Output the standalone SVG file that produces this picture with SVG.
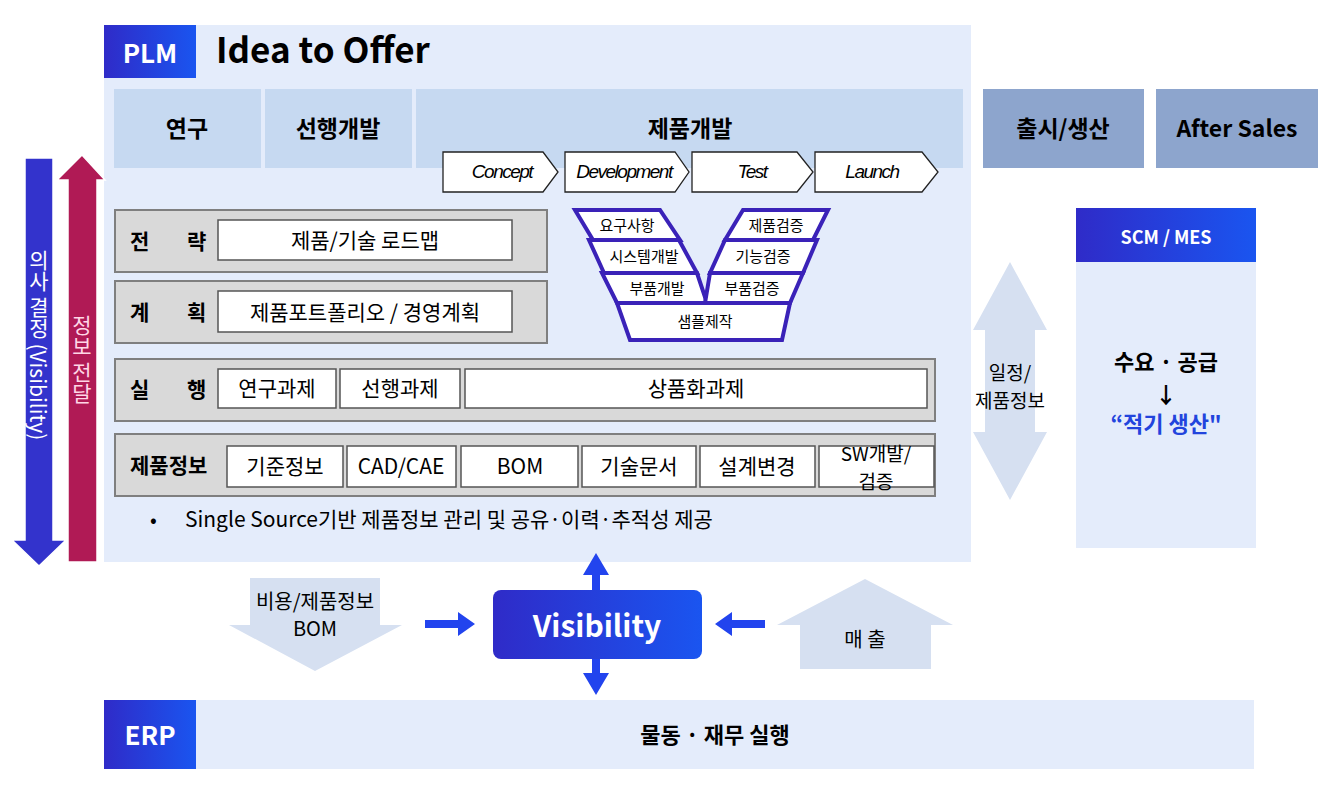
<svg xmlns="http://www.w3.org/2000/svg" width="1342" height="794" viewBox="0 0 1342 794">
<defs>
<linearGradient id="bg" x1="0" y1="0" x2="1" y2="0"><stop offset="0" stop-color="#2f2bc8"/><stop offset="1" stop-color="#1a55f0"/></linearGradient>
<style>
text{font-family:"Noto Sans CJK KR","Noto Sans",sans-serif;fill:#000}
.hd{font-size:23px;font-weight:bold;text-anchor:middle}
.row{fill:#d9d9d9;stroke:#7f7f7f;stroke-width:2}
.in{fill:#fff;stroke:#555;stroke-width:1.5}
.t{font-size:21px;text-anchor:middle}
.lbl{font-size:21px;font-weight:bold}
.pent{fill:#fff;stroke:#222;stroke-width:1.3}
.it{font-family:"Liberation Sans",sans-serif;font-style:italic;font-size:19px;text-anchor:middle;letter-spacing:-1.5px}
.v{fill:#fff;stroke:#3a22b8;stroke-width:4;stroke-linejoin:miter}
.vt{font-size:15px;text-anchor:middle}
.w{fill:#fff;font-weight:bold;text-anchor:middle}
.arr{fill:#d6e0f1}
.ba{fill:#2244ee}
</style>
</defs>
<rect width="1342" height="794" fill="#fff"/>
<g id="plm">
<rect x="104" y="25" width="867" height="537" fill="#e4ecfb"/>
<rect x="104" y="25" width="92" height="53" fill="url(#bg)"/>
<text x="150" y="63" class="w" font-size="26">PLM</text>
<text x="216" y="63" font-size="35" font-weight="bold">Idea to Offer</text>
</g>
<g id="headers">
<rect x="114" y="89" width="147" height="79" fill="#c6d9f1"/><text x="187" y="137" class="hd">연구</text>
<rect x="265" y="89" width="147" height="79" fill="#c6d9f1"/><text x="338" y="137" class="hd">선행개발</text>
<rect x="416" y="89" width="547" height="79" fill="#c6d9f1"/><text x="690" y="137" class="hd">제품개발</text>
<rect x="983" y="89" width="161" height="79" fill="#8da5cd"/><text x="1063" y="137" class="hd">출시/생산</text>
<rect x="1156" y="89" width="162" height="79" fill="#8da5cd"/><text x="1237" y="137" class="hd">After Sales</text>
</g>
<g id="phases">
<polygon class="pent" points="443,152 543,152 558,172 543,192 443,192"/><text x="502" y="178" class="it">Concept</text>
<polygon class="pent" points="565,152 675,152 689,172 675,192 565,192"/><text x="624" y="178" class="it">Development</text>
<polygon class="pent" points="692,152 797,152 813,172 797,192 692,192"/><text x="752" y="178" class="it">Test</text>
<polygon class="pent" points="815,152 922,152 938,172 922,192 815,192"/><text x="872" y="178" class="it">Launch</text>
</g>
<g id="vmodel">
<polygon class="v" points="575,210 660,210 680,240 593,240"/><text x="627" y="231" class="vt">요구사항</text>
<polygon class="v" points="589,240 679,240 697,273 604,273"/><text x="644" y="262" class="vt">시스템개발</text>
<polygon class="v" points="602,273 697,273 707,303 617,303"/><text x="657" y="294" class="vt">부품개발</text>
<polygon class="v" points="743,210 828,210 813,240 725,240"/><text x="776" y="231" class="vt">제품검증</text>
<polygon class="v" points="725,240 817,240 803,273 710,273"/><text x="763" y="262" class="vt">기능검증</text>
<polygon class="v" points="710,273 803,273 790,303 705,303"/><text x="752" y="294" class="vt">부품검증</text>
<polygon class="v" points="617,303 790,303 782,340 630,340"/><text x="705" y="327" class="vt">샘플제작</text>
</g>
<g id="strategy">
<rect class="row" x="115" y="210" width="432" height="62"/>
<text x="130" y="249" class="lbl">전</text><text x="187" y="249" class="lbl">략</text>
<rect class="in" x="218" y="220" width="294" height="40"/><text x="365" y="248" class="t">제품/기술 로드맵</text>
</g>
<g id="plan">
<rect class="row" x="115" y="281" width="432" height="62"/>
<text x="130" y="320" class="lbl">계</text><text x="187" y="320" class="lbl">획</text>
<rect class="in" x="218" y="291" width="294" height="41"/><text x="365" y="320" class="t">제품포트폴리오 / 경영계획</text>
</g>
<g id="exec">
<rect class="row" x="115" y="359" width="820" height="62"/>
<text x="130" y="397" class="lbl">실</text><text x="187" y="397" class="lbl">행</text>
<rect class="in" x="218" y="369" width="118" height="39"/><text x="277" y="396" class="t">연구과제</text>
<rect class="in" x="340" y="369" width="120" height="39"/><text x="400" y="396" class="t">선행과제</text>
<rect class="in" x="465" y="369" width="462" height="39"/><text x="696" y="396" class="t">상품화과제</text>
</g>
<g id="info">
<rect class="row" x="115" y="434" width="820" height="62"/>
<text x="130" y="473" class="lbl">제품정보</text>
<rect class="in" x="227" y="446" width="116" height="41"/><text x="285" y="474" class="t">기준정보</text>
<rect class="in" x="347" y="446" width="109" height="41"/><text x="401" y="474" class="t">CAD/CAE</text>
<rect class="in" x="461" y="446" width="117" height="41"/><text x="520" y="474" class="t">BOM</text>
<rect class="in" x="582" y="446" width="114" height="41"/><text x="639" y="474" class="t">기술문서</text>
<rect class="in" x="700" y="446" width="115" height="41"/><text x="757" y="474" class="t">설계변경</text>
<rect class="in" x="819" y="446" width="115" height="41"/><text x="876" y="461" font-size="19" text-anchor="middle">SW개발/</text><text x="876" y="489" font-size="19" text-anchor="middle">검증</text>
</g>
<g id="note">
<text x="150" y="527" font-size="20">•</text>
<text x="185" y="527" font-size="21">Single Source기반 제품정보 관리 및 공유·이력·추적성 제공</text>
</g>
<g id="side-arrows">
<polygon points="25,158 53,158 53,540 66,540 39,566 12,540 25,540" fill="#3333cc" stroke="#fff" stroke-width="1.5"/>
<text x="39" y="250" writing-mode="tb" font-size="21" style="fill:#fff">의사 결정 (Visibility)</text>
<polygon points="68,562 97,562 97,180 105,180 82,155 57,180 68,180" fill="#b01a55" stroke="#fff" stroke-width="1.5"/>
<text x="82" y="315" writing-mode="tb" font-size="21" style="fill:#ffd6e6">정보 전달</text>
</g>
<g id="scm">
<rect x="1076" y="208" width="180" height="340" fill="#e4ecfb"/>
<rect x="1076" y="208" width="180" height="54" fill="url(#bg)"/>
<text x="1166" y="244" class="w" font-size="18">SCM / MES</text>
<text x="1166" y="370" font-size="22" font-weight="bold" text-anchor="middle">수요 · 공급</text>
<text x="1166" y="403" font-size="22" font-weight="bold" text-anchor="middle">↓</text>
<text x="1166" y="432" font-size="22" font-weight="bold" text-anchor="middle" style="fill:#2244dd">“적기 생산"</text>
</g>
<g id="schedule">
<polygon class="arr" points="1010,262 1047,330 1035,330 1035,432 1047,432 1010,500 973,432 985,432 985,330 973,330"/>
<text x="1010" y="380" font-size="19" text-anchor="middle">일정/</text>
<text x="1010" y="408" font-size="19" text-anchor="middle">제품정보</text>
</g>
<g id="cost">
<polygon class="arr" points="250,578 380,578 380,625 402,625 315,671 229,625 250,625"/>
<text x="315" y="609" font-size="20" text-anchor="middle">비용/제품정보</text>
<text x="315" y="636" font-size="20" text-anchor="middle">BOM</text>
</g>
<g id="sales">
<polygon class="arr" points="865,579 953,625 931,625 931,669 800,669 800,625 777,625"/>
<text x="865" y="647" font-size="20" text-anchor="middle">매 출</text>
</g>
<g id="erp">
<rect x="104" y="700" width="1150" height="69" fill="#e4ecfb"/>
<rect x="104" y="700" width="92" height="69" fill="url(#bg)"/>
<text x="150" y="745" class="w" font-size="26">ERP</text>
<text x="715" y="743" font-size="22" font-weight="bold" text-anchor="middle">물동 · 재무 실행</text>
</g>
<g id="connectors">
<polygon class="ba" points="425,620 458,620 458,612 475,624 458,636 458,628 425,628"/>
<polygon class="ba" points="765,620 732,620 732,612 715,624 732,636 732,628 765,628"/>
<polygon class="ba" points="596,553 609,575 600,575 600,600 592,600 592,575 583,575"/>
<polygon class="ba" points="592,650 600,650 600,673 609,673 596,695 583,673 592,673"/>
</g>
<g id="visibility">
<rect x="493" y="590" width="209" height="69" rx="8" fill="url(#bg)"/>
<text x="597" y="637" class="w" font-size="30">Visibility</text>
</g>
</svg>
